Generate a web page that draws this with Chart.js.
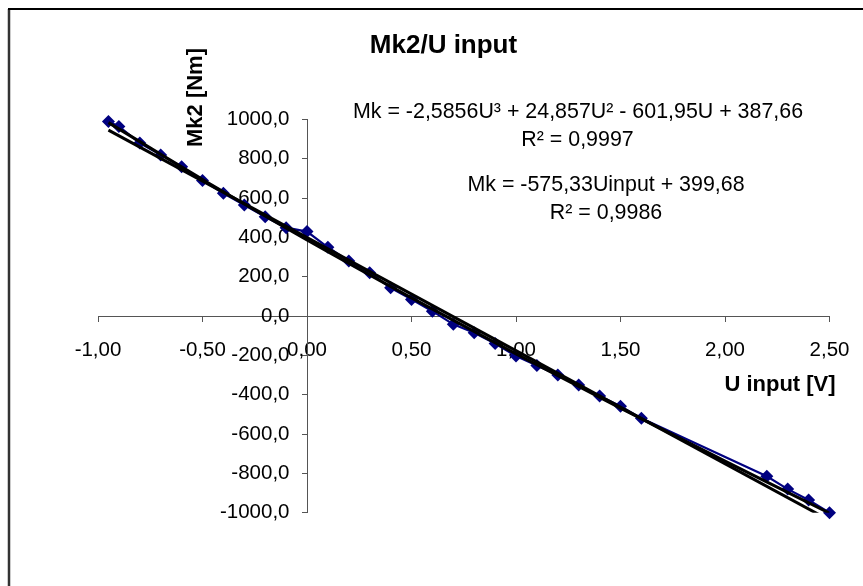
<!DOCTYPE html>
<html>
<head>
<meta charset="utf-8">
<script src="https://cdn.jsdelivr.net/npm/chart.js@4.4.1/dist/chart.umd.min.js"></script>
<style>
  html, body { margin: 0; padding: 0; background: #ffffff; }
  #wrap { width: 863px; height: 586px; }
</style>
</head>
<body>
<div id="wrap"><canvas id="c" width="863" height="586"></canvas></div>
<script>
// ---- data ----
const uInput = [-0.95, -0.9, -0.8, -0.7, -0.6, -0.5, -0.4, -0.3, -0.2, -0.1, 0.0, 0.1, 0.2, 0.3, 0.4, 0.5, 0.6, 0.7, 0.8, 0.9, 1.0, 1.1, 1.2, 1.3, 1.4, 1.5, 1.6, 2.2, 2.3, 2.4, 2.5];
const mk2 = [990, 965, 880, 820, 760, 690, 625, 565, 505, 450, 430, 350, 280, 221, 144, 85, 25, -42, -85, -140, -203, -251, -300, -351, -407, -458, -520, -815, -880, -935, -1000];

// trendlines (values as shown by the fitted curves)
const linTrendX = [-0.95, 2.5];
const linTrendY = [946.2, -1038.6];
const cubTrendX = [-0.95, -0.5, 0, 0.5, 1, 1.5, 2, 2.5];
const cubTrendY = [984.2, 695.2, 387.7, 92.6, -192.0, -468.1, -737.5, -1002.3];

// ticks
const xTickValues = [-1, -0.5, 0, 0.5, 1, 1.5, 2, 2.5];
const xTickLabels = ['-1,00', '-0,50', '0,00', '0,50', '1,00', '1,50', '2,00', '2,50'];
const yTickValues = [-1000, -800, -600, -400, -200, 0, 200, 400, 600, 800, 1000];
const yTickLabels = ['-1000,0', '-800,0', '-600,0', '-400,0', '-200,0', '0,0', '200,0', '400,0', '600,0', '800,0', '1000,0'];

const titleText = 'Mk2/U input';
const xTitle = 'U input [V]';
const yTitle = 'Mk2 [Nm]';
const eq1 = 'Mk = -2,5856U³ + 24,857U² - 601,95U + 387,66';
const r1 = 'R² = 0,9997';
const eq2 = 'Mk = -575,33Uinput + 399,68';
const r2 = 'R² = 0,9986';

const FONT = "'Liberation Sans', Arial, sans-serif";
const toPts = (xs, ys) => xs.map((x, i) => ({x: x, y: ys[i]}));

const decor = {
  id: 'decor',
  beforeDraw(chart) {
    const ctx = chart.ctx;
    ctx.save();
    ctx.fillStyle = '#ffffff';
    ctx.fillRect(0, 0, chart.width, chart.height);
    ctx.restore();
  },
  afterDraw(chart) {
    const ctx = chart.ctx;
    ctx.save();
    // frame (left & top visible)
    ctx.strokeStyle = '#333333';
    ctx.lineWidth = 2.5;
    ctx.beginPath(); ctx.moveTo(9, 9); ctx.lineTo(9, chart.height); ctx.stroke();
    ctx.strokeStyle = '#000000';
    ctx.lineWidth = 2;
    ctx.beginPath(); ctx.moveTo(8, 9); ctx.lineTo(chart.width, 9); ctx.stroke();

    ctx.fillStyle = '#000000';
    ctx.textAlign = 'center';
    ctx.textBaseline = 'alphabetic';
    ctx.font = 'bold 26px ' + FONT;
    ctx.fillText(titleText, 443.5, 53);

    ctx.font = 'bold 22px ' + FONT;
    ctx.textBaseline = 'middle';
    ctx.fillText(xTitle, 780, 385);
    ctx.save();
    ctx.translate(195.5, 97.5);
    ctx.rotate(-Math.PI / 2);
    ctx.fillText(yTitle, 0, 0);
    ctx.restore();

    ctx.font = '21.4px ' + FONT;
    ctx.fillText(eq1, 578, 112);
    ctx.fillText(r1, 577.5, 140);
    ctx.fillText(eq2, 606, 185);
    ctx.fillText(r2, 606, 213);
    ctx.restore();
  }
};

// shift y tick labels away from an axis that crosses at x = 0
function shiftYLabels(scale) {
  const proto = Object.getPrototypeOf(scale);
  scale._computeLabelItems = function (ca) {
    const items = proto._computeLabelItems.call(this, ca);
    items.forEach(it => { it.options.translation[0] -= 17.5; });
    return items;
  };
}

const axisColor = '#555555';
new Chart(document.getElementById('c'), {
  type: 'scatter',
  data: {
    datasets: [
      {
        label: 'lin',
        data: toPts(linTrendX, linTrendY),
        showLine: true,
        borderColor: '#000000',
        borderWidth: 3,
        pointRadius: 0,
        tension: 0,
        clip: 0,
        order: 0
      },
      {
        label: 'cub',
        data: toPts(cubTrendX, cubTrendY),
        showLine: true,
        borderColor: '#000000',
        borderWidth: 3,
        pointRadius: 0,
        cubicInterpolationMode: 'monotone',
        clip: 0,
        order: 0
      },
      {
        label: 'Mk2',
        data: toPts(uInput, mk2),
        showLine: true,
        borderColor: '#000080',
        backgroundColor: '#000080',
        borderWidth: 2.2,
        pointStyle: 'rectRot',
        pointRadius: 6.5,
        pointBorderWidth: 0,
        pointBackgroundColor: '#000080',
        clip: false,
        order: 1
      }
    ]
  },
  options: {
    responsive: false,
    animation: false,
    events: [],
    layout: { padding: { left: 98, right: 33.5, top: 119.5, bottom: 73.3 } },
    plugins: { legend: { display: false }, tooltip: { enabled: false }, title: { display: false } },
    scales: {
      x: {
        type: 'linear',
        min: -1, max: 2.5,
        position: { y: 0 },
        afterBuildTicks: (s) => { s.ticks = xTickValues.map(v => ({value: v})); },
        afterFit: (s) => { s.paddingLeft = 0; s.paddingRight = 0; },
        ticks: {
          autoSkip: false, maxRotation: 0, color: '#000000', padding: 17,
          font: { family: FONT, size: 20.5 },
          callback: (v, i) => xTickLabels[i]
        },
        grid: { drawOnChartArea: false, drawTicks: true, tickLength: 5, color: axisColor, lineWidth: 1 },
        border: { display: true, color: axisColor, width: 1 }
      },
      y: {
        type: 'linear',
        min: -1000, max: 1000,
        position: { x: 0 },
        afterBuildTicks: (s) => { s.ticks = yTickValues.map(v => ({value: v})); },
        afterFit: (s) => { s.paddingTop = 0; s.paddingBottom = 0; },
        afterUpdate: shiftYLabels,
        ticks: {
          autoSkip: false, color: '#000000', padding: 12,
          font: { family: FONT, size: 20.5 },
          callback: (v, i) => yTickLabels[i]
        },
        grid: { drawOnChartArea: false, drawTicks: true, tickLength: 5, color: axisColor, lineWidth: 1 },
        border: { display: true, color: axisColor, width: 1 }
      }
    }
  },
  plugins: [decor]
});
</script>
</body>
</html>
